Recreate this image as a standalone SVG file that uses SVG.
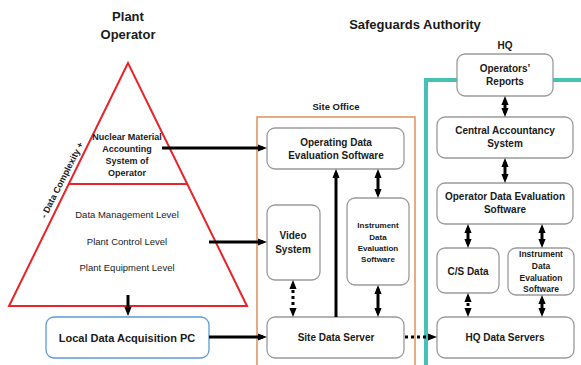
<svg xmlns="http://www.w3.org/2000/svg" width="581" height="365" viewBox="0 0 581 365">
<style>
  text { font-family: "Liberation Sans", Arial, sans-serif; fill: #1a1a1a; text-anchor: middle; }
  .title { font-size: 13px; font-weight: bold; }
  .lbl { font-size: 9.5px; font-weight: bold; }
  .box { fill: #fff; stroke: #9a9a9a; stroke-width: 1.3; }
  .bt { font-size: 10px; font-weight: bold; }
  .st { font-size: 8px; font-weight: bold; }
  .tri { font-size: 9.5px; }
  .arr { stroke: #000; stroke-width: 3; fill: none; }
  .dash { stroke-dasharray: 3 3; }
</style>
<defs>
  <marker id="ah" viewBox="0 0 10 10" refX="5.6" refY="5" markerWidth="9" markerHeight="9" markerUnits="userSpaceOnUse" orient="auto-start-reverse">
    <path d="M0,1 L10,5 L0,9 z" fill="#000"/>
  </marker>
</defs>

<!-- titles -->
<text class="title" x="128" y="21">Plant</text>
<text class="title" x="128" y="39">Operator</text>
<text class="title" x="415" y="29">Safeguards Authority</text>
<text class="lbl" x="336" y="110">Site Office</text>
<text class="lbl" x="505" y="49" style="font-size:10px">HQ</text>

<!-- containers -->
<g id="site-office">
  <rect x="257" y="117" width="158" height="260" fill="none" stroke="#e0905a" stroke-width="1.5"/>
</g>
<g id="hq-frame">
  <path d="M426,367 L426,80 L581,80" fill="none" stroke="#45c2b5" stroke-width="4"/>
</g>

<!-- plant operator pyramid -->
<g id="pyramid">
  <polygon points="128,63 9,306 247,306" fill="#fff" stroke="#e8232a" stroke-width="2"/>
  <line x1="69" y1="184" x2="187" y2="184" stroke="#e8232a" stroke-width="2"/>
  <text class="tri" x="127" y="140" style="font-weight:bold;font-size:9px">Nuclear Material</text>
  <text class="tri" x="127" y="152" style="font-weight:bold;font-size:9px">Accounting</text>
  <text class="tri" x="127" y="164" style="font-weight:bold;font-size:9px">System of</text>
  <text class="tri" x="127" y="176" style="font-weight:bold;font-size:9px">Operator</text>
  <text class="tri" x="127" y="218">Data Management  Level</text>
  <text class="tri" x="127" y="245">Plant Control Level</text>
  <text class="tri" x="127" y="271">Plant Equipment Level</text>
  <text class="tri" transform="translate(62,180) rotate(-63)" y="3" style="font-weight:bold;font-size:9px">- Data Complexity +</text>
</g>

<g id="local-pc">
  <rect x="46" y="317" width="163" height="41" rx="8" fill="#fff" stroke="#5b9bd5" stroke-width="1.3"/>
  <text x="127" y="342" style="font-size:11px;font-weight:bold">Local Data Acquisition PC</text>
</g>

<!-- site office nodes -->
<g id="site-odes">
  <rect class="box" x="267" y="128" width="137" height="41" rx="8"/>
  <text class="bt" x="336" y="146">Operating Data</text>
  <text class="bt" x="336" y="159">Evaluation Software</text>
</g>
<g id="video">
  <rect class="box" x="267" y="205" width="53" height="75" rx="8"/>
  <text class="bt" x="293" y="239">Video</text>
  <text class="bt" x="293" y="253">System</text>
</g>
<g id="site-ides">
  <rect class="box" x="347" y="198" width="62" height="87" rx="8"/>
  <text class="st" x="378" y="228">Instrument</text>
  <text class="st" x="378" y="240">Data</text>
  <text class="st" x="378" y="251">Evaluation</text>
  <text class="st" x="378" y="262">Software</text>
</g>
<g id="site-server">
  <rect class="box" x="267" y="317" width="137" height="41" rx="8"/>
  <text class="bt" x="336" y="341">Site Data Server</text>
</g>

<!-- HQ nodes -->
<g id="op-reports">
  <rect class="box" x="457" y="54" width="96" height="42" rx="8"/>
  <text class="bt" x="505" y="72">Operators’</text>
  <text class="bt" x="505" y="85">Reports</text>
</g>
<g id="cas">
  <rect class="box" x="437" y="117" width="136" height="41" rx="8"/>
  <text class="bt" x="505" y="134">Central Accountancy</text>
  <text class="bt" x="505" y="147">System</text>
</g>
<g id="hq-odes">
  <rect class="box" x="437" y="183" width="136" height="41" rx="8"/>
  <text class="bt" x="505" y="200">Operator Data Evaluation</text>
  <text class="bt" x="505" y="213">Software</text>
</g>
<g id="cs-data">
  <rect class="box" x="437" y="248" width="62" height="45" rx="8"/>
  <text class="bt" x="468" y="275">C/S Data</text>
</g>
<g id="hq-ides">
  <rect class="box" x="508" y="248" width="66" height="47" rx="8"/>
  <text class="st" x="541" y="257" style="font-size:8.5px">Instrument</text>
  <text class="st" x="541" y="269" style="font-size:8.5px">Data</text>
  <text class="st" x="541" y="281" style="font-size:8.5px">Evaluation</text>
  <text class="st" x="541" y="292" style="font-size:8.5px">Software</text>
</g>
<g id="hq-servers">
  <rect class="box" x="437" y="317" width="137" height="41" rx="8"/>
  <text class="bt" x="505" y="341">HQ Data Servers</text>
</g>

<!-- connectors -->
<g id="connectors">
  <line class="arr" x1="162" y1="148" x2="263" y2="148" marker-end="url(#ah)"/>
  <line class="arr" x1="209" y1="242" x2="263" y2="242" marker-end="url(#ah)"/>
  <line class="arr" x1="128" y1="295" x2="128" y2="312" marker-end="url(#ah)"/>
  <line class="arr" x1="209" y1="337" x2="263" y2="337" marker-end="url(#ah)"/>
  <line class="arr" x1="336" y1="317" x2="336" y2="173" marker-end="url(#ah)"/>
  <line class="arr" x1="378" y1="173" x2="378" y2="194" marker-start="url(#ah)" marker-end="url(#ah)"/>
  <line class="arr" x1="378" y1="289" x2="378" y2="313" marker-start="url(#ah)" marker-end="url(#ah)"/>
  <line class="arr dash" x1="293" y1="284" x2="293" y2="313" marker-start="url(#ah)" marker-end="url(#ah)"/>
  <line class="arr dash" x1="405" y1="337" x2="433" y2="337" marker-end="url(#ah)"/>
  <line class="arr" x1="505" y1="100" x2="505" y2="113" marker-start="url(#ah)" marker-end="url(#ah)"/>
  <line class="arr" x1="505" y1="162" x2="505" y2="179" marker-start="url(#ah)" marker-end="url(#ah)"/>
  <line class="arr" x1="468" y1="228" x2="468" y2="244" marker-start="url(#ah)" marker-end="url(#ah)"/>
  <line class="arr" x1="542" y1="228" x2="542" y2="244" marker-start="url(#ah)" marker-end="url(#ah)"/>
  <line class="arr dash" x1="468" y1="297" x2="468" y2="313" marker-start="url(#ah)" marker-end="url(#ah)"/>
  <line class="arr" x1="542" y1="299" x2="542" y2="313" marker-start="url(#ah)" marker-end="url(#ah)"/>
</g>
</svg>
